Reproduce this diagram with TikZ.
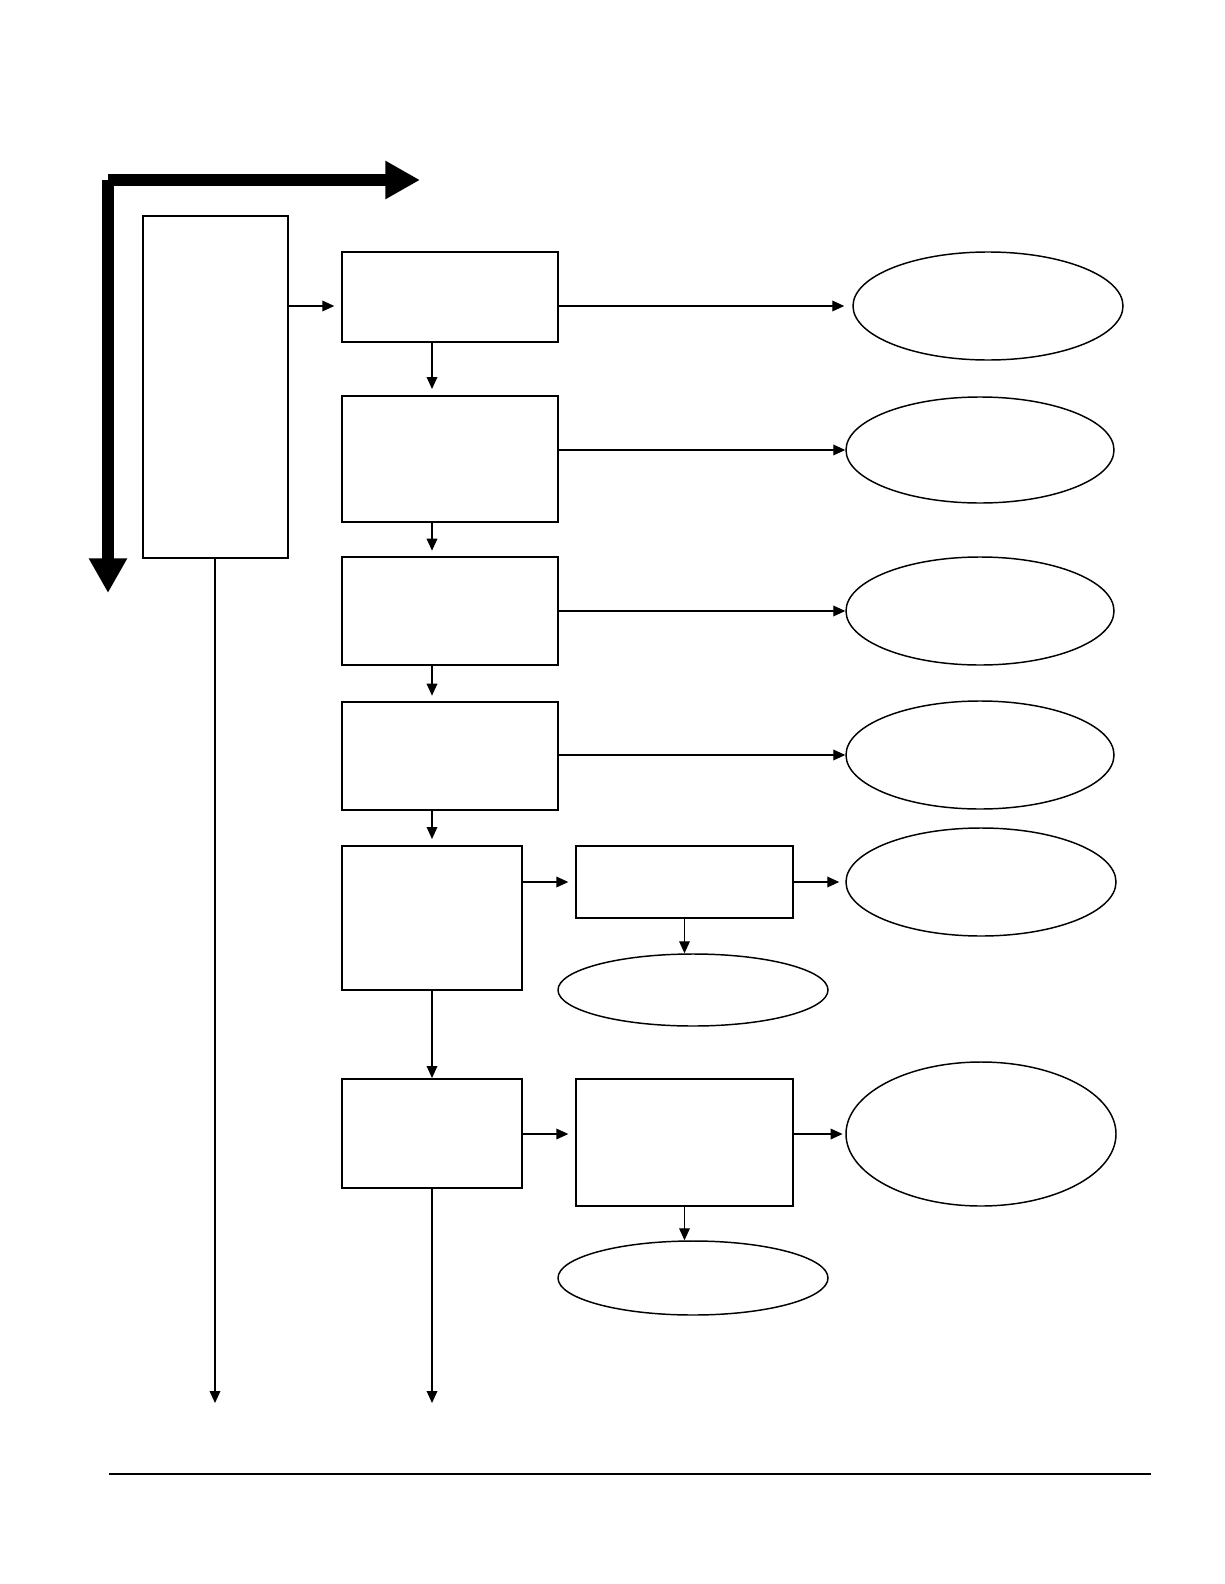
\documentclass[tikz,border=0pt]{standalone}
\usetikzlibrary{arrows.meta,fit,shapes.geometric}
\begin{document}
\begin{tikzpicture}[x=0.75pt,y=-0.75pt,
  box/.style={draw,line width=1.5pt,inner sep=0pt},
  oval/.style={draw,ellipse,line width=1.1pt,inner sep=0pt},
  conn/.style={line width=1pt,-{Triangle[length=9pt,width=8pt]}},
  bigarrow/.style={line width=9pt,-{Triangle[length=26pt,width=27pt]}}]
\useasboundingbox (0,0) rectangle (1224,1584);
% boxes
\node[box,fit={(143,216) (288,558)}] (L) {};
\node[box,fit={(342,252) (558,342)}] (b1) {};
\node[box,fit={(342,396) (558,522)}] (b2) {};
\node[box,fit={(342,557) (558,665)}] (b3) {};
\node[box,fit={(342,702) (558,810)}] (b4) {};
\node[box,fit={(342,846) (522,990)}] (b5) {};
\node[box,fit={(576,846) (793,918)}] (b6) {};
\node[box,fit={(342,1079) (522,1188)}] (b7) {};
\node[box,fit={(576,1079) (793,1206)}] (b8) {};
% ellipses
\node[oval,minimum width=202.5pt,minimum height=81pt] (e1) at (988,306) {};
\node[oval,minimum width=201pt,minimum height=79.5pt] (e2) at (980,450) {};
\node[oval,minimum width=201pt,minimum height=81pt] (e3) at (980,611) {};
\node[oval,minimum width=201pt,minimum height=81pt] (e4) at (980,755) {};
\node[oval,minimum width=202.5pt,minimum height=81pt] (e5) at (981,882) {};
\node[oval,minimum width=202.5pt,minimum height=54pt] (e6) at (693,990) {};
\node[oval,minimum width=202.5pt,minimum height=108pt] (e7) at (981,1134) {};
\node[oval,minimum width=202.5pt,minimum height=55.5pt] (e8) at (693,1278) {};
% helper coordinates
\coordinate (cx) at (432,0);
\coordinate (endL) at (215,1403);
\coordinate (end7) at (432,1403);
\coordinate (rule1) at (109,1474);
\coordinate (rule2) at (1151,1474);
\coordinate (hb1) at (108,180);
\coordinate (hb2) at (420,180);
\coordinate (vb2) at (108,593);
% big axis arrows
\draw[bigarrow] (hb1) -- (hb2);
\draw[bigarrow] (hb1) -- (vb2);
% connectors
\draw[conn,shorten >=5pt] (L.east |- e1.west) -- (b1.west |- e1.west);
\draw[conn,shorten >=6pt] (b1.east |- e1.west) -- (e1.west);
\draw[conn] (b2.east |- e2.west) -- (e2.west);
\draw[conn] (b3.east |- e3.west) -- (e3.west);
\draw[conn] (b4.east |- e4.west) -- (e4.west);
\draw[conn,shorten >=4.5pt] (b1.south -| cx) -- (b2.north -| cx);
\draw[conn,shorten >=4pt] (b2.south -| cx) -- (b3.north -| cx);
\draw[conn,shorten >=4pt] (b3.south -| cx) -- (b4.north -| cx);
\draw[conn,shorten >=4.5pt] (b4.south -| cx) -- (b5.north -| cx);
\draw[conn,shorten >=5pt] (b5.east |- b6.west) -- (b6.west);
\draw[conn,shorten >=4.5pt] (b6.east) -- (b6.east -| e5.west);
\draw[conn] (b6.south) -- (b6.south |- e6.north);
\draw[conn] (b5.south) -- (b7.north);
\draw[conn,shorten >=5pt] (b7.east |- e7.west) -- (b8.west |- e7.west);
\draw[conn,shorten >=2pt] (b8.east |- e7.west) -- (e7.west);
\draw[conn] (b8.south) -- (b8.south |- e8.north);
\draw[conn] (L.south -| endL) -- (endL);
\draw[conn] (b7.south) -- (end7);
% bottom rule
\draw[line width=2.2pt] (rule1) -- (rule2);
\end{tikzpicture}
\end{document}
